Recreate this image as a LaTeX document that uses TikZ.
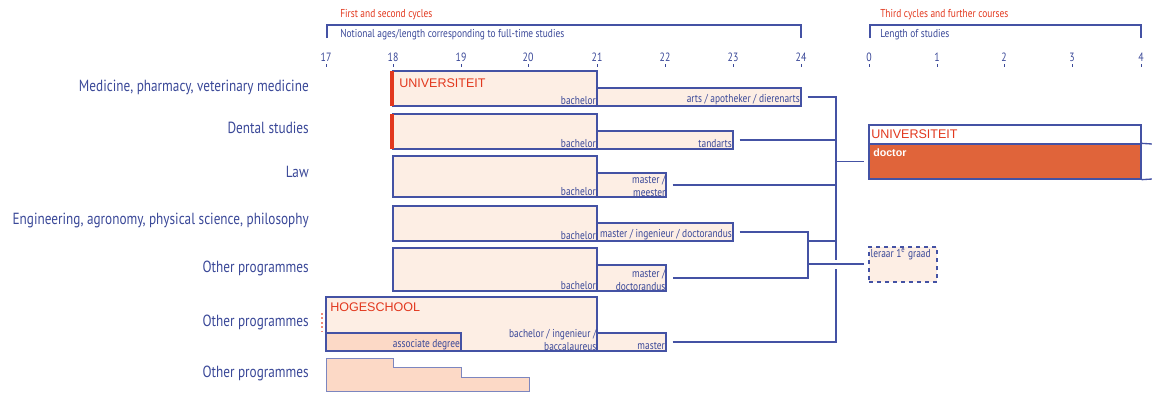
\documentclass[tikz,border=0pt]{standalone}
\usepackage{fontspec}
\setmainfont{PT Sans}
\newfontfamily\cond[FakeStretch=0.82]{PT Sans}
\newfontfamily\capsf{Liberation Sans}
\usetikzlibrary{fit}
\definecolor{eblue}{HTML}{4452A4}
\definecolor{etext}{HTML}{3A4898}
\definecolor{ered}{HTML}{E2381E}
\definecolor{pinkdot}{HTML}{F08A7A}
\definecolor{peach}{HTML}{FDEEE4}
\definecolor{peachd}{HTML}{FCD9C6}
\definecolor{dorange}{HTML}{E0643A}
\begin{document}
\begin{tikzpicture}[x=0.75pt,y=-0.75pt,
  box/.style={draw=eblue, line width=1pt, fill=peach, inner sep=0pt},
  dbox/.style={box, fill=peachd},
  conn/.style={draw=eblue, line width=1pt},
  rowlab/.style={anchor=east, text=etext, font=\cond\fontsize{12.1}{14}\selectfont, inner sep=0pt},
  small/.style={text=etext, font=\cond\fontsize{8.6}{9.4}\selectfont, inner sep=1.2pt},
  head/.style={anchor=west, font=\cond\fontsize{8.6}{10}\selectfont, inner sep=0pt},
  axnum/.style={text=etext, font=\cond\fontsize{9}{10}\selectfont, inner sep=0pt},
  inst/.style={text=ered, font=\capsf\fontsize{9.4}{11}\selectfont, inner sep=0pt, anchor=north west},
  tick/.style={draw=etext, line width=0.6pt}
]
\useasboundingbox (0,0) rectangle (1152,394);

% headings and brackets
\node[head, text=ered] (h1) at (340,15) {First and second cycles};
\node[head, text=etext] (h2) at (340,35) {Notional ages/length corresponding to full-time studies};
\node[head, text=ered] (h3) at (880,15) {Third cycles and further courses};
\node[head, text=etext] (h4) at (880,35) {Length of studies};
\draw[conn] (327,38) -- (327,25) -- (801,25) -- (801,38);
\draw[conn] (870,38) -- (870,25) -- (1141,25) -- (1141,38);

% axes
\foreach \x/\v in {326/17,393/18,461/19,528/20,597/21,665/22,733/23,801/24}{
  \node[axnum] (ax\v) at (\x,57) {\v};
  \draw[tick] (\x,64) -- (\x,67);
}
\foreach \x/\v in {869/0,937/1,1004/2,1072/3,1141/4}{
  \node[axnum] (bx\v) at (\x,57) {\v};
  \draw[tick] (\x,64) -- (\x,67);
}

% row labels
\node[rowlab] (l1) at (309,87) {Medicine, pharmacy, veterinary medicine};
\node[rowlab] (l2) at (309,128) {Dental studies};
\node[rowlab] (l3) at (309,172) {Law};
\node[rowlab] (l4) at (309,220) {Engineering, agronomy, physical science, philosophy};
\node[rowlab] (l5) at (309,268) {Other programmes};
\node[rowlab] (l6) at (309,322) {Other programmes};
\node[rowlab] (l7) at (309,373) {Other programmes};

% row 1
\node[box, fit={(393,71) (597,106)}] (med1) {};
\node[box, fit={(597,88) (801,106)}] (med2) {};
\fill[ered] (390,71) rectangle (393.5,106);
\node[inst] (uni1) at (399,78) {UNIVERSITEIT};
\node[small, anchor=south east] (t1a) at (med1.south east) {bachelor};
\node[small, anchor=south east] (t1b) at (med2.south east) {arts / apotheker / dierenarts};

% row 2
\node[box, fit={(393,114) (597,149)}] (den1) {};
\node[box, fit={(597,131) (733,149)}] (den2) {};
\fill[ered] (390,114) rectangle (393.5,149);
\node[small, anchor=south east] (t2a) at (den1.south east) {bachelor};
\node[small, anchor=south east] (t2b) at (den2.south east) {tandarts};

% row 3
\node[box, fit={(393,156) (597,197)}] (law1) {};
\node[box, fit={(597,173) (666,197)}] (law2) {};
\node[small, anchor=south east] (t3a) at (law1.south east) {bachelor};
\node[small, anchor=south east, align=right, inner sep=0.8pt] (t3b) at (law2.south east) {master /\\meester};

% row 4
\node[box, fit={(393,206) (597,241)}] (eng1) {};
\node[box, fit={(597,223) (733,241)}] (eng2) {};
\node[small, anchor=south east] (t4a) at (eng1.south east) {bachelor};
\node[small, anchor=south east] (t4b) at (eng2.south east) {master / ingenieur / doctorandus};

% row 5
\node[box, fit={(393,248) (597,291)}] (oth1) {};
\node[box, fit={(597,265) (666,291)}] (oth2) {};
\node[small, anchor=south east] (t5a) at (oth1.south east) {bachelor};
\node[small, anchor=south east, align=right, inner sep=0.8pt] (t5b) at (oth2.south east) {master /\\doctorandus};

% row 6 hogeschool
\node[box, fit={(326,297) (597,351)}] (hog1) {};
\node[dbox, fit={(326,333) (461,351)}] (hogad) {};
\node[box, fit={(597,333) (666,351)}] (hog2) {};
\draw[pinkdot, line width=1.3pt, dotted] (322,313) -- (322,334);
\node[inst] (hs) at (330,302) {HOGESCHOOL};
\node[small, anchor=south east] (t6ad) at (hogad.south east) {associate degree};
\node[small, anchor=south east, align=right, inner sep=0.8pt] (t6a) at (hog1.south east) {bachelor / ingenieur /\\baccalaureus};
\node[small, anchor=south east] (t6b) at (hog2.south east) {master};

% row 7 step shape
\draw[draw=eblue!70, line width=0.6pt, fill=peachd] (326,358) -- (393,358) -- (393,367) -- (461,367) -- (461,377) -- (529,377) -- (529,391) -- (326,391) -- cycle;

% third cycle boxes
\node[box, fill=white, fit={(869,125) (1141,144)}] (docT) {};
\node[box, fill=dorange, fit={(869,144) (1141,179)}] (docB) {};
\node[inst] (uni2) at (871,129) {UNIVERSITEIT};
\node[font=\capsf\fontsize{8}{9}\selectfont\bfseries, text=white, anchor=north west, inner sep=0pt] (tdoc) at (873,148) {doctor};
\coordinate (r1) at (1152,144);
\coordinate (r2) at (1152,179);
\draw[conn] (docB.north east) -- (r1);
\draw[conn] (docB.south east) -- (r2);

\node[box, dashed, fit={(869,247) (937,282)}] (ler) {};
\node[small, anchor=north west, inner sep=1.5pt] (tler) at (ler.north west) {leraar 1\textsuperscript{e} graad};

% connectors
\coordinate (bus) at (836,0);
\coordinate (sub) at (808,0);
\coordinate (gapT) at (836,260);
\coordinate (gapB) at (836,269);
\coordinate (j1) at (808,241);
\coordinate (j2) at (808,264);

\draw[conn] ([xshift=4.5pt]med2.east) -- (med2.east -| bus) -- (gapT);
\draw[conn] ([xshift=4.5pt]den2.east) -- (den2.east -| bus);
\draw[conn] ([xshift=4.5pt]law2.east) -- (law2.east -| bus);
\draw[conn] ([xshift=4.5pt]eng2.east) -- (eng2.east -| sub) -- (oth2.east -| sub) -- ([xshift=4.5pt]oth2.east);
\draw[conn] (j1) -- (j1 -| bus);
\draw[conn, shorten >=3.5pt] (j2) -- (ler.west |- j2);
\draw[conn, shorten >=3.5pt] (docB.west -| bus) -- (docB.west);
\draw[conn] ([xshift=4.5pt]hog2.east) -- (hog2.east -| bus) -- (gapB);
\end{tikzpicture}
\end{document}
